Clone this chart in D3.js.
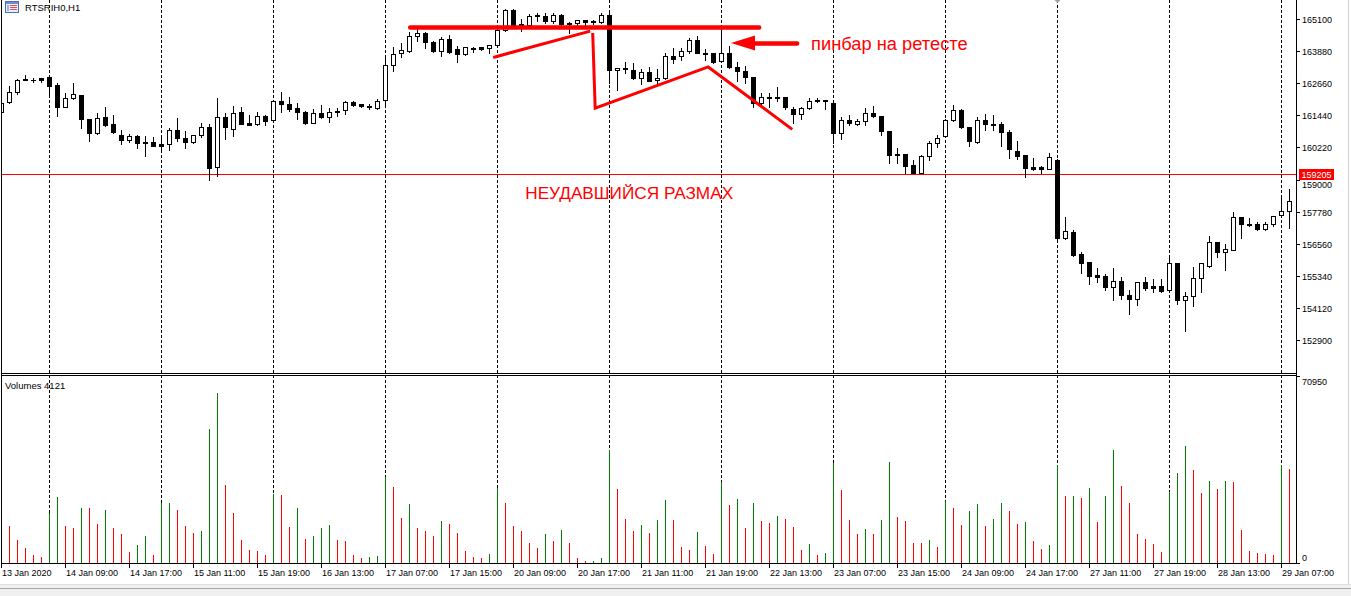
<!DOCTYPE html>
<html><head><meta charset="utf-8">
<script src="https://cdn.jsdelivr.net/npm/d3@7"></script>
<style>
body{margin:0;background:#fff;overflow:hidden}
svg{display:block}
text{font-family:"Liberation Sans",Arial,sans-serif}
</style>
</head><body>
<svg id="c" width="1351" height="596"></svg>
<script>
// ---------------- DATA ----------------
const symbolTitle = "RTSRIH0,H1";
const volumeTitle = "Volumes 4121";
const firstBar = -1; // index of first (partly hidden) bar
const opens = [161570,161930,162310,162810,162770,162840,162880,162580,161760,162080,162210,161290,160750,161360,161090,160690,160490,160650,160420,160420,160340,160340,160870,160560,160430,160680,160980,159460,161360,160900,161550,161130,161090,161400,161250,161970,161850,161710,161560,161150,161510,161360,161600,161620,161930,161850,161750,161700,162000,163330,163790,163890,164430,164550,164200,163890,164320,163940,163750,164000,164010,164000,164090,164660,165420,164850,164850,165190,165200,165000,165230,164930,164930,165040,164960,164960,165230,163140,163240,163170,162840,163080,162760,162840,163670,163670,163860,164280,163790,163790,163480,163790,163260,163100,162880,161890,162120,162080,162120,161660,161470,161700,161970,162000,161890,160750,161250,161090,161210,161510,161420,160830,159920,159960,159540,159240,159880,160370,160640,161250,161620,160980,160410,161250,161090,161090,160790,160080,159920,159460,159460,159410,159730,156790,157010,156170,155860,155370,155340,154940,155140,154620,154480,155100,154960,154960,154820,155820,154440,154570,155250,155730,156620,156240,156310,157570,157300,157300,157110,157300,157640,157790];
const highs = [161980,162550,162810,162960,162840,162840,162890,162650,162270,162650,162210,161290,161530,161740,161450,160880,160730,160690,160650,160610,160700,160960,161340,160840,160700,161150,161110,162080,161510,161790,161740,161440,161550,161450,162020,162310,162120,161900,161600,161660,161810,161700,161700,161970,161970,161850,161850,162040,163600,164040,164170,164580,164700,164580,164240,164390,164490,164060,164040,164040,164040,164090,164700,165460,165460,165080,165270,165300,165300,165300,165270,164960,165040,165040,165040,165300,165300,163220,163450,163410,163180,163260,163180,163790,163980,163980,164360,164430,163940,163790,164700,164050,163450,163290,162880,162270,162270,162500,162120,161740,161760,162080,162080,162000,161890,161360,161440,161280,161700,161780,161420,160830,160180,159960,159730,159920,160450,160680,161280,161810,161660,160980,161360,161470,161440,161170,160870,160450,159920,159800,159500,159990,159770,157570,157080,156250,155860,155630,155400,155630,155310,154810,155100,155310,155210,155210,156120,155820,154720,155690,155830,156850,156620,156540,157760,157570,157530,157380,157380,157600,158400,158630];
const lows = [161520,161890,162230,162760,162690,162690,162230,161420,161750,162070,160960,160470,160710,161030,160780,160350,160430,160180,159900,160270,160050,160130,160470,160210,160400,160620,158990,159140,160520,160660,161110,161050,161060,161080,161240,161570,161590,161310,161090,161130,161350,161170,161400,161500,161800,161740,161660,161690,161740,163100,163640,163850,164270,163980,163830,163670,163790,163450,163740,163850,163930,163810,164080,164620,164800,164640,164800,165000,164930,164930,164800,164550,164850,164850,164890,164930,162650,162380,163030,162800,162610,162720,162610,162830,163410,163520,163790,163780,163520,163410,163480,163220,162730,162650,161740,161810,161740,161970,161690,161130,161280,161660,161930,161660,160370,160520,161060,161050,161060,161360,160700,159610,159610,159260,159230,159230,159730,160220,160600,161210,160940,160260,160370,160870,160870,160260,159800,159770,159110,159360,159230,159390,156700,156750,156100,155460,155020,155110,154790,154440,154480,153910,154250,154820,154740,154740,154810,154290,153260,154210,154740,155690,156050,155580,156310,156790,157220,157070,157100,157220,157600,157150];
const closes = [161890,162310,162760,162760,162790,162760,162560,161760,162080,162230,161280,160750,161320,161070,160790,160490,160650,160370,160370,160280,160280,160870,160560,160430,160680,160980,159450,161360,161000,161530,161120,161060,161400,161210,161970,161850,161690,161570,161150,161510,161360,161550,161550,161930,161810,161780,161770,161980,163330,163750,163900,164430,164550,164200,163870,164320,163830,163750,164010,163940,163960,164090,164660,165420,164850,164890,165190,165230,165000,165230,164890,164890,165040,164960,165000,165230,163140,163220,163190,162840,163080,162730,162840,163670,163560,163860,164280,163790,163750,163450,163790,163260,163100,162880,161890,162120,162080,162120,161760,161470,161700,161970,162000,161970,160750,161250,161130,161210,161510,161400,160830,159920,159960,159500,159240,159880,160370,160560,161250,161620,160980,160450,161250,161090,161060,160790,160150,159910,159420,159410,159410,159840,156790,157050,156140,155840,155350,155320,154940,155140,154630,154480,155100,154900,154900,154780,155820,154440,154570,155250,155820,156620,156240,156350,157570,157300,157260,157110,157300,157600,157790,158170];
const volumes = [16000,14040,8730,5690,3040,2280,18850,25050,14040,13280,20870,20800,14800,20110,13280,11010,4170,6830,10250,3040,22640,22900,20110,14040,11390,12140,50850,64520,29600,18980,8730,4930,4550,3040,26190,25810,13660,20870,9110,10250,13280,14420,8730,8350,3040,1900,2280,2660,32640,28840,17080,22390,13280,12140,10250,15940,14800,11390,4550,2280,1900,3420,28460,22770,14040,12140,7590,5690,11010,8350,12520,7590,1900,630,890,1900,42880,28080,16700,12140,14420,11390,16320,23910,16320,6070,4930,11760,6450,3420,30740,22010,24290,13280,22770,15940,15180,17840,16700,13660,4930,7210,3040,3800,37950,27700,16320,11010,12900,11010,16320,38330,17460,15940,7590,7590,8730,6070,23530,20870,14420,19730,22390,14040,16700,22770,19730,14800,15560,8350,5310,6830,37190,25300,25550,24790,28460,15560,25430,42880,29220,22770,11010,9110,7210,4170,26940,34150,44400,35290,26570,31120,28080,31120,30740,12520,4550,3800,3420,3040,37190,35670];

const priceTicks = [165100,163880,162660,161440,160220,159000,157780,156560,155340,154120,152900];
const volumeTicks = [70950,0];
const timeTickBars = [-1,7,15,23,31,39,47,55,63,71,79,87,95,103,111,119,127,135,143,151,159];
const timeTickLabels = ["13 Jan 2020","14 Jan 09:00","14 Jan 17:00","15 Jan 11:00","15 Jan 19:00","16 Jan 13:00","17 Jan 07:00","17 Jan 15:00","20 Jan 09:00","20 Jan 17:00","21 Jan 11:00","21 Jan 19:00","22 Jan 13:00","23 Jan 07:00","23 Jan 15:00","24 Jan 09:00","24 Jan 17:00","27 Jan 11:00","27 Jan 19:00","28 Jan 13:00","29 Jan 07:00"];
const daySeparatorBars = [5,19,33,47,61,75,89,103,117,131,145,159];
const levelPrice = 159205;

// annotations, in (bar, price) space
const resistanceLine = [[50.09,164770],[93.7,164770]];
const swingLineA = [[60.46,163630],[72.59,164630]];
const swingLineB = [[72.9,164560],[73.21,161710],[87.34,163270],[97.84,160900]];
const arrowTip = [90.19,164180];
const arrowTail = [98.45,164160];
const pinbarText = {bar:100.2, price:163910, text:"пинбар на ретесте"};
const swingText = {bar:77.46, price:158250, text:"НЕУДАВШИЙСЯ РАЗМАХ"};

// ---------------- LAYOUT ----------------
const W = 1351, H = 596;
const paneRight = 1296;
const mainBottom = 373, volTop = 376, volBottom = 563;
const svg = d3.select("#c");

const x = d3.scaleLinear().domain([-1,160]).range([1.5,1289.5]);
const y = d3.scaleLinear().domain([152900,165100]).range([340.3,18.7]);
const yv = d3.scaleLinear().domain([0,70950]).range([volBottom,volTop]);
const py = p => Math.round(y(p));

const bars = opens.map((o,i)=>({k:firstBar+i,o,h:highs[i],l:lows[i],c:closes[i],v:volumes[i],pv:i>0?volumes[i-1]:Infinity}));

const defs = svg.append("defs");
defs.append("clipPath").attr("id","mainClip").append("rect").attr("x",2).attr("y",0).attr("width",paneRight-2).attr("height",mainBottom);
defs.append("clipPath").attr("id","volClip").append("rect").attr("x",2).attr("y",volTop).attr("width",paneRight-2).attr("height",volBottom-volTop);

svg.append("rect").attr("width",W).attr("height",H).attr("fill","#fff");

// day separators
svg.append("g").selectAll("line").data(daySeparatorBars).join("line")
  .attr("x1",d=>x(d)).attr("x2",d=>x(d)).attr("y1",0).attr("y2",volBottom)
  .attr("stroke","#000").attr("stroke-width",1).attr("stroke-dasharray","3,2");
svg.append("path").attr("d",`M${x(131)-3},0 L${x(131)+3},0 L${x(131)},3 Z`).attr("fill","#a0a0a0");

// level line
svg.append("line").attr("x1",2).attr("x2",paneRight).attr("y1",py(levelPrice)+0.5).attr("y2",py(levelPrice)+0.5)
  .attr("stroke","#ff0000").attr("stroke-width",1);

// candles
const gMain = svg.append("g").attr("clip-path","url(#mainClip)");
const cg = gMain.selectAll("g.c").data(bars).join("g");
cg.append("rect").attr("x",d=>x(d.k)-0.5).attr("y",d=>py(d.h)).attr("width",1)
  .attr("height",d=>py(d.l)-py(d.h)+1).attr("fill","#000");
cg.each(function(d){
  const g = d3.select(this);
  const top = py(Math.max(d.o,d.c)), bot = py(Math.min(d.o,d.c));
  const cx = x(d.k);
  g.append("rect").attr("x",cx-2.5).attr("y",top).attr("width",5).attr("height",bot-top+1).attr("fill","#000");
  if (d.c > d.o && bot-top >= 2) {
    g.append("rect").attr("x",cx-1.5).attr("y",top+1).attr("width",3).attr("height",bot-top-1).attr("fill","#fff");
  }
});

// annotations
const pt = d => [x(d[0]), y(d[1])];
const lineGen = d3.line().x(d=>x(d[0])).y(d=>y(d[1]));
gMain.append("path").attr("d",lineGen(resistanceLine)).attr("stroke","#ff0000").attr("stroke-width",4.5)
  .attr("stroke-linecap","round").attr("fill","none");
[swingLineA, swingLineB].forEach(l=>{
  gMain.append("path").attr("d",lineGen(l)).attr("stroke","#ff0000").attr("stroke-width",3)
    .attr("stroke-linejoin","miter").attr("fill","none");
});
{
  const [tx,ty] = pt(arrowTip), [ex,ey] = pt(arrowTail);
  const headLen = 24, headHalf = 7.5;
  gMain.append("line").attr("x1",tx+headLen-2).attr("y1",ty+0.5).attr("x2",ex).attr("y2",ey)
    .attr("stroke","#ff0000").attr("stroke-width",4.5).attr("stroke-linecap","round");
  gMain.append("path").attr("d",`M${tx},${ty} L${tx+headLen},${ty-headHalf} L${tx+headLen},${ty+headHalf} Z`).attr("fill","#ff0000");
}
gMain.append("text").attr("x",x(pinbarText.bar)).attr("y",y(pinbarText.price)).text(pinbarText.text)
  .attr("fill","#ff0000").attr("font-size",18.3);
gMain.append("text").attr("x",x(swingText.bar)).attr("y",y(swingText.price)).text(swingText.text)
  .attr("fill","#ff0000").attr("font-size",17.2).attr("text-anchor","middle");

// volumes
const gVol = svg.append("g").attr("clip-path","url(#volClip)");
gVol.selectAll("rect").data(bars).join("rect")
  .attr("x",d=>x(d.k)-0.5).attr("y",d=>Math.round(yv(d.v))).attr("width",1)
  .attr("height",d=>volBottom-Math.round(yv(d.v)))
  .attr("fill",d=>d.v>d.pv?"#008000":"#ff0000");

// frames
const frame = svg.append("g").attr("stroke","#000").attr("stroke-width",1).attr("fill","none");
frame.append("line").attr("x1",1.5).attr("x2",1.5).attr("y1",0).attr("y2",volBottom+0.5);
frame.append("line").attr("x1",paneRight+0.5).attr("x2",paneRight+0.5).attr("y1",0).attr("y2",volBottom+0.5);
frame.append("line").attr("x1",1.5).attr("x2",paneRight+0.5).attr("y1",mainBottom+0.5).attr("y2",mainBottom+0.5);
frame.append("line").attr("x1",1.5).attr("x2",paneRight+0.5).attr("y1",volTop-0.5).attr("y2",volTop-0.5);
frame.append("line").attr("x1",1.5).attr("x2",paneRight+0.5).attr("y1",volBottom+0.5).attr("y2",volBottom+0.5);

// price axis (the tick hidden behind the level label is nudged just below it)
const labelY = d => Math.abs(py(d)-py(levelPrice)) < 10 ? py(levelPrice)+14 : py(d)+3.5;
const pa = svg.append("g");
pa.selectAll("line").data(priceTicks).join("line")
  .attr("x1",paneRight).attr("x2",paneRight+4).attr("y1",d=>py(d)+0.5).attr("y2",d=>py(d)+0.5).attr("stroke","#000");
pa.selectAll("text").data(priceTicks).join("text")
  .attr("x",paneRight+6).attr("y",labelY).attr("font-size",9).attr("fill","#000").text(d=>d);
// level label
svg.append("rect").attr("x",1299).attr("y",py(levelPrice)-5).attr("width",35).attr("height",11).attr("fill","#ff0000");
svg.append("text").attr("x",1301.5).attr("y",py(levelPrice)+4).attr("font-size",9).attr("fill","#fff").text(levelPrice);

// volume axis
svg.append("g").selectAll("line").data(volumeTicks).join("line")
  .attr("x1",paneRight).attr("x2",paneRight+4).attr("y1",d=>Math.round(yv(d))+0.5).attr("y2",d=>Math.round(yv(d))+0.5).attr("stroke","#000");
svg.append("g").selectAll("text").data(volumeTicks).join("text")
  .attr("x",paneRight+6).attr("y",d=>d===0?yv(d)-2:yv(d)+8.5).attr("font-size",9).attr("fill","#000").text(d=>d);

// time axis
svg.append("g").selectAll("line").data(timeTickBars).join("line")
  .attr("x1",d=>x(d)).attr("x2",d=>x(d)).attr("y1",volBottom).attr("y2",volBottom+5).attr("stroke","#000");
svg.append("g").selectAll("text").data(timeTickBars).join("text")
  .attr("x",d=>x(d)+0.5).attr("y",576).attr("font-size",9).attr("fill","#000").text((d,i)=>timeTickLabels[i]);

// titles
const icon = svg.append("g");
icon.append("rect").attr("x",5.5).attr("y",1.5).attr("width",13).attr("height",11).attr("fill","#e8eefa").attr("stroke","#4a6fb5");
icon.append("rect").attr("x",6).attr("y",2).attr("width",12).attr("height",2).attr("fill","#6b8fd0");
[5,7,9].forEach(r=>icon.append("rect").attr("x",10).attr("y",r).attr("width",7).attr("height",1).attr("fill","#e05050"));
icon.append("rect").attr("x",7).attr("y",5).attr("width",2).attr("height",6).attr("fill","#9bb3e0");
svg.append("text").attr("x",25).attr("y",11).attr("font-size",9.5).attr("fill","#000").text(symbolTitle);
svg.append("text").attr("x",5).attr("y",388.5).attr("font-size",9.5).attr("fill","#000").text(volumeTitle);

// window chrome
svg.append("line").attr("x1",1348.5).attr("x2",1348.5).attr("y1",0).attr("y2",584).attr("stroke","#d0d0d0");
svg.append("rect").attr("x",0).attr("y",584).attr("width",W).attr("height",12).attr("fill","#f0f0f0");
svg.append("line").attr("x1",0).attr("x2",W).attr("y1",584.5).attr("y2",584.5).attr("stroke","#e0e0e0");
svg.append("line").attr("x1",0).attr("x2",W).attr("y1",588.5).attr("y2",588.5).attr("stroke","#a8a8a8");
</script>
</body></html>
